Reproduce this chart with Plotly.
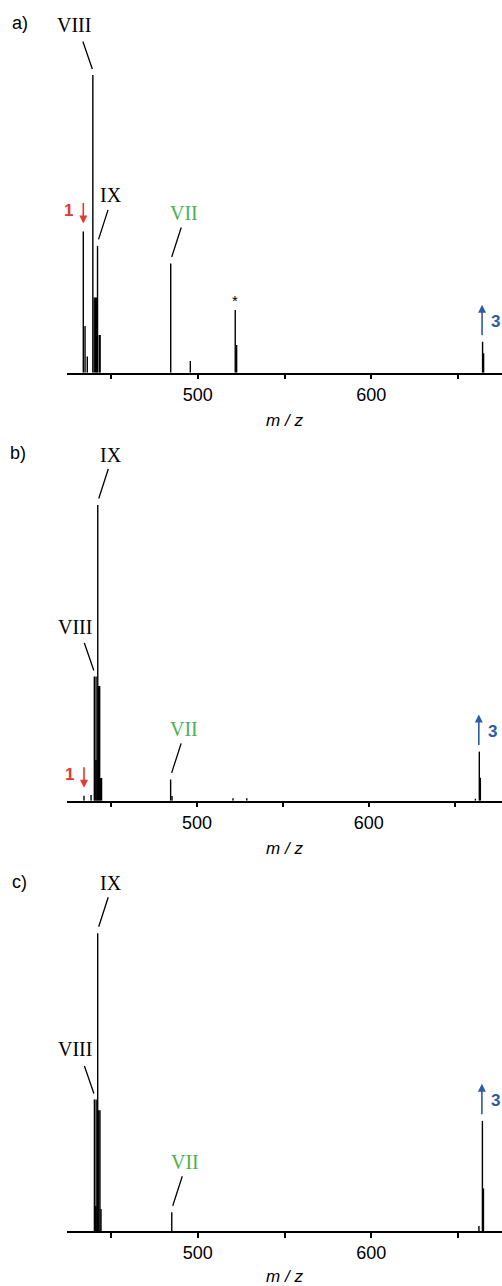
import plotly.graph_objects as go

# ---------------- data ----------------
tick_vals = [450, 500, 550, 600, 650]
tick_text = ["", "500", "", "600", ""]
panel_names = ["a)", "b)", "c)"]
axis_title = "m / z"

# panel a
mz_a = [434.0, 435.0, 436.3, 439.5, 440.3, 441.0, 441.7, 442.2, 443.2, 443.7,
        484.4, 495.7, 521.6, 522.4, 664.2, 664.8]
int_a = [47.4, 15.7, 5.4, 100.0, 25.3, 25.3, 25.3, 42.6, 12.7, 12.7,
         36.7, 3.9, 21.1, 9.3, 10.4, 6.5]

# panel b
mz_b = [434.3, 438.4, 440.3, 440.8, 441.3, 441.8, 442.3, 442.8, 443.4, 444.0, 444.5,
        484.7, 485.5, 521.0, 529.0, 662.0, 664.3, 664.9]
int_b = [1.7, 1.9, 42.0, 13.8, 42.0, 13.8, 100.0, 38.8, 38.8, 7.7, 7.7,
         7.2, 1.6, 0.8, 0.8, 0.7, 16.6, 7.8]

# panel c
mz_c = [440.4, 440.9, 441.4, 441.9, 442.3, 442.9, 443.6, 444.2,
        485.0, 662.1, 664.1, 664.7]
int_c = [44.2, 8.4, 44.2, 8.4, 100.0, 40.6, 40.6, 7.4,
         6.3, 1.7, 37.0, 14.3]

# labels: (panel index, text, index of labelled peak, kind)
labels = [
    (0, "VIII", 3, "left"), (0, "IX", 7, "right"), (0, "VII", 10, "rightg"),
    (0, "*", 12, "star"), (0, "1", 0, "down"), (0, "3", 14, "up"),
    (1, "IX", 6, "right"), (1, "VIII", 2, "left"), (1, "VII", 11, "rightg"),
    (1, "1", 0, "down"), (1, "3", 16, "up"),
    (2, "IX", 4, "right"), (2, "VIII", 0, "left"), (2, "VII", 8, "rightg"),
    (2, "3", 10, "up"),
]

# ---------------- styling / layout ----------------
W, H = 502, 1286
RED = "#e8372c"
BLUE = "#2d5ba8"
GREEN = "#4cb04f"
SERIF = "Liberation Serif, Times New Roman, serif"
SANS = "Liberation Sans, Arial, sans-serif"

panels = [(mz_a, int_a), (mz_b, int_b), (mz_c, int_c)]
# pixel positions (from top) of axis baseline and top of y-domain
base_px = [372.7, 800.7, 1231.0]
top_px = [0.0, 420.0, 850.0]
px_per_unit = [2.977, 2.957, 2.977]
x_ranges = [[424.6, 675.4], [424.4, 677.5], [424.6, 675.4]]
letter_px = [(20, 23), (18, 453), (19.5, 881.5)]

fig = go.Figure()
layout = dict(
    width=W, height=H,
    margin=dict(l=0, r=0, t=0, b=0),
    paper_bgcolor="white", plot_bgcolor="white",
    showlegend=False,
    annotations=[],
)

for i, (mz, inten) in enumerate(panels):
    xs, ys = [], []
    for m, v in zip(mz, inten):
        xs += [m, m, None]
        ys += [0, v, None]
    xa = "x" if i == 0 else f"x{i+1}"
    ya = "y" if i == 0 else f"y{i+1}"
    fig.add_trace(go.Scatter(x=xs, y=ys, mode="lines",
                             line=dict(color="black", width=1.4),
                             xaxis=xa, yaxis=ya, hoverinfo="skip"))
    ymax = (base_px[i] - top_px[i]) / px_per_unit[i]
    kx = "xaxis" if i == 0 else f"xaxis{i+1}"
    ky = "yaxis" if i == 0 else f"yaxis{i+1}"
    layout[kx] = dict(
        domain=[67 / W, 1.0], range=x_ranges[i], anchor=ya,
        showline=True, linecolor="black", linewidth=1.5,
        ticks="outside", ticklen=5, tickwidth=1.5, tickcolor="black",
        tickvals=tick_vals, ticktext=tick_text,
        tickfont=dict(family=SANS, size=18, color="black"),
        showgrid=False, zeroline=False,
        title=dict(text=f"<i>{axis_title}</i>", standoff=10,
                   font=dict(family=SANS, size=17, color="black")),
    )
    layout[ky] = dict(
        domain=[1 - base_px[i] / H, 1 - top_px[i] / H],
        range=[0, ymax], visible=False, anchor=xa,
    )
    # panel letter
    lx, ly = letter_px[i]
    layout["annotations"].append(dict(
        xref="paper", yref="paper", x=lx / W, y=1 - ly / H,
        xanchor="center", yanchor="middle",
        text=panel_names[i], showarrow=False,
        font=dict(family=SANS, size=18, color="black"),
    ))

def add_ann(**kw):
    layout["annotations"].append(kw)

for (p, txt, idx, kind) in labels:
    mz, inten = panels[p]
    xr = "x" if p == 0 else f"x{p+1}"
    yr = "y" if p == 0 else f"y{p+1}"
    xv, yv = mz[idx], inten[idx]
    common = dict(xref=xr, yref=yr, x=xv, y=yv)
    if kind in ("right", "rightg"):
        col = GREEN if kind == "rightg" else "black"
        add_ann(**common, text="", showarrow=True, arrowhead=0, arrowwidth=1.3,
                arrowcolor="black", xshift=1, yshift=6.5, ax=10, ay=-31,
                standoff=0, startstandoff=0)
        add_ann(**common, text=txt, showarrow=False, xshift=13.5, yshift=50.5,
                xanchor="center", yanchor="middle",
                font=dict(family=SERIF, size=20, color=col))
    elif kind == "left":
        add_ann(**common, text="", showarrow=True, arrowhead=0, arrowwidth=1.3,
                arrowcolor="black", xshift=-0.5, yshift=6, ax=-10, ay=-29,
                standoff=0, startstandoff=0)
        add_ann(**common, text=txt, showarrow=False, xshift=-19, yshift=50,
                xanchor="center", yanchor="middle",
                font=dict(family=SERIF, size=20, color="black"))
    elif kind == "star":
        add_ann(**common, text=txt, showarrow=False, xshift=0, yshift=9,
                xanchor="center", yanchor="middle",
                font=dict(family=SANS, size=15, color="black"))
    elif kind == "down":
        add_ann(**common, text="", showarrow=True, arrowhead=2, arrowsize=1.0,
                arrowwidth=1.6, arrowcolor=RED, xshift=0, yshift=8, ax=0, ay=-22,
                standoff=0, startstandoff=0)
        add_ann(**common, text="<b>1</b>", showarrow=False, xshift=-14.5, yshift=21,
                xanchor="center", yanchor="middle",
                font=dict(family=SANS, size=17, color=RED))
    elif kind == "up":
        add_ann(**common, text="", showarrow=True, arrowhead=2, arrowsize=1.0,
                arrowwidth=1.6, arrowcolor=BLUE, xshift=-0.5, yshift=37, ax=0, ay=32,
                standoff=0, startstandoff=0)
        add_ann(**common, text="<b>3</b>", showarrow=False, xshift=13, yshift=20,
                xanchor="center", yanchor="middle",
                font=dict(family=SANS, size=17, color=BLUE))

fig.update_layout(**layout)
fig.write_html(
    "out.html",
    config={"displayModeBar": False},
    post_script="document.body.style.margin='0';document.body.style.overflow='hidden';",
)
